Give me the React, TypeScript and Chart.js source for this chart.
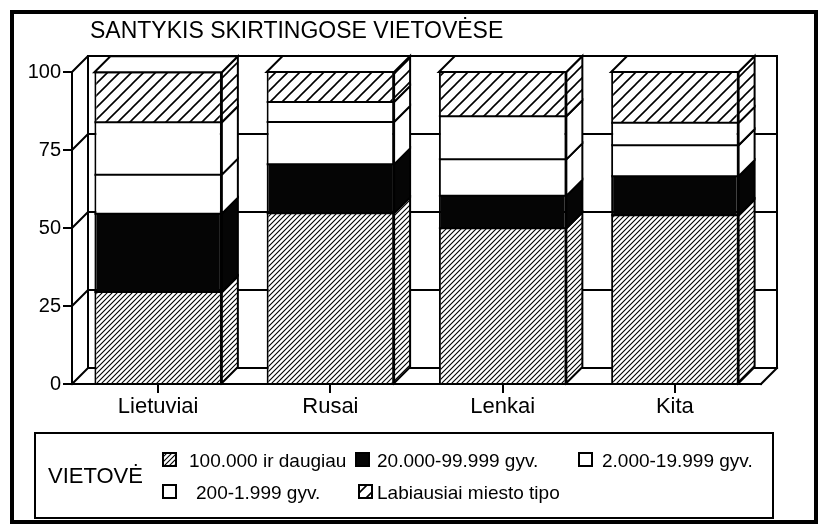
import React, { useEffect, useRef } from 'react';
import { Chart, registerables } from 'chart.js';

Chart.register(...registerables);

// ---- data ----
const categories = ['Lietuviai', 'Rusai', 'Lenkai', 'Kita'];
const seriesLabels = [
  '100.000 ir daugiau',
  '20.000-99.999 gyv.',
  '2.000-19.999 gyv.',
  '200-1.999 gyv.',
  'Labiausiai miesto tipo',
];
const s100k = [29.5, 54.7, 49.9, 54.1];
const s20k = [25.1, 15.7, 10.4, 12.5];
const s2k = [12.5, 13.6, 11.7, 9.9];
const s200 = [16.8, 6.4, 13.8, 7.2];
const sUrban = [16.0, 9.6, 14.2, 16.3];
const yMin = 0;
const yMax = 100;
const yStep = 25;
const chartTitle = 'SANTYKIS SKIRTINGOSE VIETOVĖSE';
const legendTitle = 'VIETOVĖ';

const FONT = "'Liberation Sans', Arial, Helvetica, sans-serif";
const DEPTH = 16;

function makeHatch(size: number, lw: number): CanvasPattern | string {
  const c = document.createElement('canvas');
  c.width = size;
  c.height = size;
  const g = c.getContext('2d');
  if (!g) return '#888';
  g.fillStyle = '#fff';
  g.fillRect(0, 0, size, size);
  g.strokeStyle = '#000';
  g.lineWidth = lw;
  g.beginPath();
  g.moveTo(0, size);
  g.lineTo(size, 0);
  g.moveTo(-2, 2);
  g.lineTo(2, -2);
  g.moveTo(size - 2, size + 2);
  g.lineTo(size + 2, size - 2);
  g.stroke();
  const p = g.createPattern(c, 'repeat');
  return p || '#888';
}

// legend layout: [iconX, iconY, textX, baselineY]
const legendLayout = [
  [163, 453, 189, 467],
  [356, 453, 377, 467],
  [579, 453, 602, 467],
  [163, 485, 196, 499],
  [359, 485, 377, 499],
];

const threeD = {
  id: 'threeD',
  beforeDraw(chart: any) {
    const ctx = chart.ctx;
    ctx.save();
    ctx.fillStyle = '#fff';
    ctx.fillRect(0, 0, chart.width, chart.height);
    ctx.restore();
  },
  beforeDatasetsDraw(chart: any) {
    const ctx = chart.ctx;
    const { left, right, top, bottom } = chart.chartArea;
    const ys = chart.scales.y;
    const D = DEPTH;
    ctx.save();
    ctx.strokeStyle = '#000';
    ctx.lineWidth = 2;
    ctx.lineCap = 'square';
    ctx.beginPath();
    ctx.moveTo(left + D, bottom - D);
    ctx.lineTo(left + D, top - D);
    ctx.lineTo(right + D, top - D);
    ctx.lineTo(right + D, bottom - D);
    ctx.stroke();
    ys.ticks.forEach((t: any) => {
      const py = ys.getPixelForValue(t.value);
      ctx.beginPath();
      ctx.moveTo(left, py);
      ctx.lineTo(left + D, py - D);
      ctx.lineTo(right + D, py - D);
      ctx.stroke();
    });
    ctx.beginPath();
    ctx.moveTo(right, bottom);
    ctx.lineTo(right + D, bottom - D);
    ctx.stroke();
    ctx.beginPath();
    ctx.moveTo(left, bottom);
    ctx.lineTo(right, bottom);
    ctx.stroke();
    ctx.restore();
  },
  afterDatasetsDraw(chart: any) {
    const ctx = chart.ctx;
    const D = DEPTH;
    const n = chart.data.datasets.length;
    ctx.save();
    ctx.strokeStyle = '#000';
    ctx.lineWidth = 2;
    ctx.lineJoin = 'miter';
    chart.data.datasets.forEach((ds: any, i: number) => {
      if (!chart.isDatasetVisible(i)) return;
      const meta = chart.getDatasetMeta(i);
      meta.data.forEach((bar: any) => {
        const { x, y, base, width } = bar.getProps(['x', 'y', 'base', 'width'], true);
        const L = x - width / 2;
        const R = x + width / 2;
        const t = Math.min(y, base);
        const b = Math.max(y, base);
        ctx.beginPath();
        ctx.moveTo(R, b);
        ctx.lineTo(R, t);
        ctx.lineTo(R + D, t - D);
        ctx.lineTo(R + D, b - D);
        ctx.closePath();
        ctx.fillStyle = ds.backgroundColor;
        ctx.fill();
        ctx.stroke();
        // segment boundary on front face
        ctx.beginPath();
        ctx.moveTo(L, t);
        ctx.lineTo(R, t);
        ctx.stroke();
        if (i === n - 1) {
          ctx.beginPath();
          ctx.moveTo(L, t);
          ctx.lineTo(L + D, t - D);
          ctx.lineTo(R + D, t - D);
          ctx.lineTo(R, t);
          ctx.closePath();
          ctx.fillStyle = '#fff';
          ctx.fill();
          ctx.stroke();
        }
      });
    });
    ctx.restore();
  },
  afterDraw(chart: any) {
    const ctx = chart.ctx;
    ctx.save();
    ctx.strokeStyle = '#000';
    ctx.lineWidth = 4;
    ctx.strokeRect(12, 12, 804, 510);
    ctx.fillStyle = '#000';
    ctx.font = `23px ${FONT}`;
    ctx.textBaseline = 'alphabetic';
    ctx.textAlign = 'left';
    ctx.fillText(chartTitle, 90, 38);
    ctx.lineWidth = 2;
    ctx.strokeRect(35, 433, 738, 85);
    ctx.font = `22px ${FONT}`;
    ctx.fillText(legendTitle, 48, 483);
    ctx.font = `19px ${FONT}`;
    chart.data.datasets.forEach((ds: any, i: number) => {
      const lay = legendLayout[i];
      if (!lay) return;
      const [ix, iy, tx, ty] = lay;
      ctx.fillStyle = ds.backgroundColor;
      ctx.fillRect(ix, iy, 13, 13);
      ctx.strokeStyle = '#000';
      ctx.lineWidth = 2;
      ctx.strokeRect(ix, iy, 13, 13);
      ctx.fillStyle = '#000';
      ctx.fillText(ds.label, tx, ty);
    });
    ctx.restore();
  },
};

export default function App() {
  const ref = useRef<HTMLCanvasElement>(null);
  useEffect(() => {
    if (!ref.current) return;
    const fine = makeHatch(5, 1.1);
    const coarse = makeHatch(12, 1.6);
    const fills = [fine, '#050505', '#ffffff', '#ffffff', coarse];
    const values = [s100k, s20k, s2k, s200, sUrban];
    const chart = new Chart(ref.current, {
      type: 'bar',
      data: {
        labels: categories,
        datasets: seriesLabels.map((label, i) => ({
          label,
          data: values[i],
          backgroundColor: fills[i] as any,
          borderColor: '#000',
          borderWidth: { top: 0, bottom: 0, left: 2, right: 2 },
          borderSkipped: false,
          barPercentage: 0.74,
          categoryPercentage: 1,
        })),
      },
      options: {
        animation: false,
        responsive: false,
        events: [],
        layout: { padding: { top: 72, left: 0, right: 63, bottom: 103 } },
        plugins: {
          legend: { display: false },
          tooltip: { enabled: false },
          title: { display: false },
        },
        scales: {
          x: {
            stacked: true,
            ticks: { color: '#000', font: { size: 22, family: FONT }, padding: 1 },
            grid: {
              offset: false,
              drawOnChartArea: false,
              drawTicks: true,
              tickLength: 9,
              color: '#000',
              lineWidth: 2,
            },
            border: { display: true, color: '#000', width: 2 },
            afterFit: (s: any) => {
              s.height = 40;
            },
          },
          y: {
            stacked: true,
            min: yMin,
            max: yMax,
            ticks: { stepSize: yStep, color: '#000', font: { size: 20, family: FONT }, padding: 2 },
            grid: {
              drawOnChartArea: false,
              drawTicks: true,
              tickLength: 9,
              color: '#000',
              lineWidth: 2,
            },
            border: { display: true, color: '#000', width: 2 },
            afterFit: (s: any) => {
              s.width = 72;
            },
          },
        },
      },
      plugins: [threeD],
    });
    return () => chart.destroy();
  }, []);
  return (
    <div style={{ position: 'absolute', left: 0, top: 0, width: 824, height: 527, background: '#fff' }}>
      <canvas ref={ref} width={824} height={527} style={{ display: 'block' }} />
    </div>
  );
}
